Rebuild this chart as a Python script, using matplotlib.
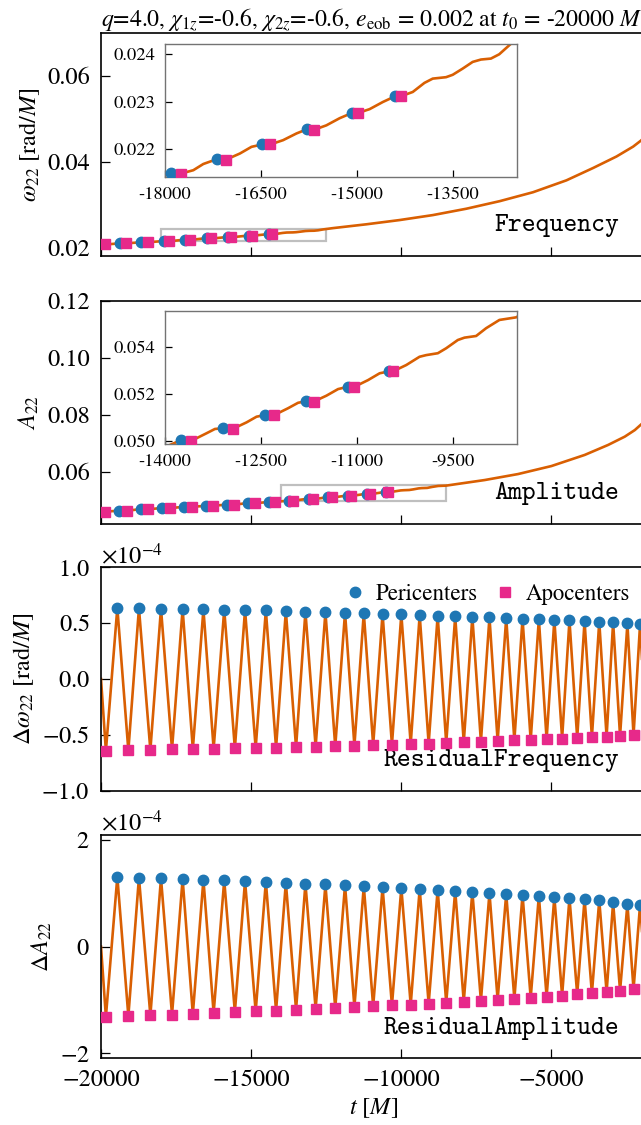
"""
Eccentricity diagnostics: omega_22, A_22 and their residuals with
pericenter / apocenter markers (values read off the reference figure).
"""

import matplotlib
matplotlib.use('Agg')
import matplotlib.pyplot as plt
import numpy as np
from matplotlib.ticker import MultipleLocator, ScalarFormatter

ORANGE = '#d95f02'
BLUE = '#1f77b4'
PINK = '#e7298a'

TITLE = (r'$q$=4.0, $\chi_{1z}$=-0.6, $\chi_{2z}$=-0.6, '
         r'$e_{\rm eob}$ = 0.002 at $t_0$ = -20000 $M$')

# ---------------------------------------------------------------------------
# omega_22 (top panel)
# ---------------------------------------------------------------------------
freq_t = [-20000, -19880, -19620, -19380, -19180, -18900, -18655, -18450, -18170,
          -17902, -17745, -17554, -17398, -17190, -17045, -16826, -16645, -16479,
          -16350, -16151, -15943, -15777, -15662, -15476, -15268, -15076, -14981,
          -14800, -14593, -14401, -14312, -14126, -13944, -13814, -13606, -13502,
          -13346, -13190, -13060, -12905, -12775, -12593, -12280, -11167, -10057,
          -8947, -7833, -6723, -5613, -4500, -3613, -2833, -2277, -2020, -1850]
freq_w = [0.02069, 0.02069, 0.02082, 0.02095, 0.02095, 0.02109, 0.02122, 0.02122, 0.02136,
          0.02150, 0.02149, 0.02156, 0.02169, 0.02179, 0.02178, 0.02191, 0.02205, 0.02210,
          0.02210, 0.02219, 0.02233, 0.02242, 0.02241, 0.02250, 0.02265, 0.02276, 0.02276,
          0.02284, 0.02299, 0.02311, 0.02311, 0.02320, 0.02339, 0.02348, 0.02351, 0.02356,
          0.02369, 0.02383, 0.02388, 0.02390, 0.02399, 0.02421, 0.02450, 0.02539, 0.02638,
          0.02754, 0.02902, 0.03078, 0.03286, 0.03563, 0.03850, 0.04118, 0.04349, 0.04488, 0.04600]
freq_peri_t = [-19380, -18655, -17902, -17190, -16479, -15777, -15076, -14401]
freq_peri_w = [0.02095, 0.02122, 0.02150, 0.02179, 0.02210, 0.02242, 0.02276, 0.02311]
freq_apo_t = [-19880, -19180, -18450, -17745, -17045, -16350, -15662, -14981, -14312]
freq_apo_w = [0.02069, 0.02095, 0.02122, 0.02149, 0.02178, 0.02210, 0.02241, 0.02276, 0.02311]

# ---------------------------------------------------------------------------
# A_22 (second panel)
# ---------------------------------------------------------------------------
amp_t = [-20000, -19877, -19640, -19413, -19120, -18900, -18680, -18423, -18190, -17960,
         -17703, -17470, -17240, -16973, -16740, -16507, -16277, -16040, -15810, -15580,
         -15350, -15113, -14883, -14650, -14417, -14220, -13990, -13751, -13590, -13346,
         -13216, -13086, -12940, -12722, -12566, -12436, -12296, -12073, -11917, -11787,
         -11673, -11475, -11293, -11137, -11043, -10825, -10643, -10498, -10435, -10227,
         -10020, -9916, -9734, -9604, -9422, -9318, -9136, -8980, -8772, -8512,
         -7223, -6110, -5000, -3890, -3110, -2557, -2223, -1967, -1850]
amp_a = [0.0461, 0.0461, 0.0463, 0.0465, 0.0465, 0.04675, 0.0470, 0.0470, 0.0472, 0.0474,
         0.0474, 0.0476, 0.0478, 0.0478, 0.0480, 0.0482, 0.0482, 0.0484, 0.0486, 0.0486,
         0.04885, 0.0491, 0.0491, 0.0493, 0.0495, 0.0495, 0.04975, 0.05003, 0.05000, 0.05033,
         0.05051, 0.05054, 0.05051, 0.05079, 0.05103, 0.05110, 0.05109, 0.05139, 0.05162, 0.05169,
         0.05167, 0.05192, 0.05220, 0.05230, 0.05229, 0.05258, 0.05287, 0.05295, 0.05295, 0.05322,
         0.05357, 0.05364, 0.05372, 0.05393, 0.05428, 0.05438, 0.05445, 0.05478, 0.05513, 0.05524,
         0.0572, 0.0593, 0.0621, 0.0660, 0.0695, 0.0724, 0.0747, 0.0771, 0.0781]
amp_peri_t = [-19413, -18680, -17960, -17240, -16507, -15810, -15113, -14417, -13751,
              -13086, -12436, -11787, -11137, -10498]
amp_peri_a = [0.0465, 0.0470, 0.0474, 0.0478, 0.0482, 0.0486, 0.0491, 0.0495, 0.05003,
              0.05054, 0.05110, 0.05169, 0.05230, 0.05295]
amp_apo_t = [-19877, -19120, -18423, -17703, -16973, -16277, -15580, -14883, -14220,
             -13590, -12940, -12296, -11673, -11043, -10435]
amp_apo_a = [0.0461, 0.0465, 0.0470, 0.0474, 0.0478, 0.0482, 0.0486, 0.0491, 0.0495,
             0.05000, 0.05051, 0.05109, 0.05167, 0.05229, 0.05295]

# ---------------------------------------------------------------------------
# residuals (units of 1e-4)
# ---------------------------------------------------------------------------
RES_SCALE = 1e-4
res_start_t, res_start_v = -20000, 0.0
res_peri_t = [-19456, -18736, -18002, -17282, -16589, -15896, -15203, -14510, -13844, -13192,
              -12526, -11873, -11248, -10623, -9998, -9387, -8788, -8204, -7633, -7063,
              -6505, -5962, -5418, -4902, -4399, -3896, -3407, -2945, -2469, -2048]
res_apo_t = [-19837, -19089, -18356, -17635, -16942, -16249, -15542, -14849, -14170, -13504,
             -12852, -12199, -11561, -10936, -10311, -9686, -9088, -8503, -7919, -7348,
             -6791, -6234, -5690, -5160, -4644, -4141, -3652, -3162, -2714, -2265, -1840]
res_freq_peri = [0.637, 0.634, 0.631, 0.628, 0.625, 0.622, 0.619, 0.616, 0.610, 0.604,
                 0.601, 0.595, 0.592, 0.586, 0.580, 0.574, 0.568, 0.562, 0.559, 0.553,
                 0.547, 0.541, 0.538, 0.532, 0.526, 0.520, 0.514, 0.508, 0.498, 0.489]
res_freq_apo = [-0.643, -0.640, -0.637, -0.631, -0.628, -0.625, -0.622, -0.619, -0.616, -0.613,
                -0.607, -0.604, -0.598, -0.592, -0.589, -0.583, -0.580, -0.574, -0.568, -0.562,
                -0.556, -0.550, -0.547, -0.541, -0.535, -0.529, -0.523, -0.517, -0.511, -0.505,
                -0.500]
res_amp_peri = [1.306, 1.294, 1.281, 1.269, 1.256, 1.244, 1.231, 1.219, 1.200, 1.181,
                1.163, 1.150, 1.131, 1.113, 1.100, 1.081, 1.069, 1.050, 1.031, 1.006,
                0.988, 0.969, 0.950, 0.931, 0.913, 0.894, 0.869, 0.831, 0.800, 0.781]
res_amp_apo = [-1.313, -1.300, -1.288, -1.275, -1.263, -1.244, -1.225, -1.213, -1.200, -1.181,
               -1.163, -1.150, -1.131, -1.119, -1.100, -1.088, -1.069, -1.050, -1.031, -1.013,
               -0.994, -0.975, -0.956, -0.938, -0.919, -0.894, -0.875, -0.850, -0.825, -0.800,
               -0.790]

# inset windows
freq_inset_xlim = (-18000, -12500)
freq_inset_ylim = (0.02142, 0.02421)
freq_inset_xticks = [-18000, -16500, -15000, -13500]
freq_inset_yticks = [0.022, 0.023, 0.024]
amp_inset_xlim = (-14000, -8500)
amp_inset_ylim = (0.04986, 0.05551)
amp_inset_xticks = [-14000, -12500, -11000, -9500]
amp_inset_yticks = [0.050, 0.052, 0.054]

plt.rcParams.update({
    'font.family': 'STIXGeneral',
    'mathtext.fontset': 'stix',
    'font.size': 17.5,
    'axes.linewidth': 1.2,
    'xtick.direction': 'in',
    'ytick.direction': 'in',
    'xtick.major.size': 6.5,
    'ytick.major.size': 6.5,
    'xtick.major.width': 0.9,
    'ytick.major.width': 0.9,
    'xtick.major.pad': 8,
    'ytick.major.pad': 8,
})

MS_O, MS_S, LW = 7.5, 6.5, 1.9


def draw_markers(ax, pt, pv, at, av, **kw):
    ax.plot(pt, pv, 'o', color=BLUE, ms=MS_O, zorder=3, **kw.get('peri', {}))
    ax.plot(at, av, 's', color=PINK, ms=MS_S, zorder=3.1, **kw.get('apo', {}))


def curve_panel(ax, t, y, pt, pv, at, av, rect, xlim, ylim, xticks, yticks, tag):
    ax.plot(t, y, color=ORANGE, lw=LW, zorder=2)
    draw_markers(ax, pt, pv, at, av)

    ins = ax.inset_axes(rect)
    ins.plot(t, y, color=ORANGE, lw=LW, zorder=2)
    draw_markers(ins, pt, pv, at, av)
    ins.set_xlim(xlim)
    ins.set_ylim(ylim)
    ins.set_xticks(xticks, labels=[f'{v}' for v in xticks])
    ins.set_yticks(yticks, labels=[f'{v:.3f}' for v in yticks])
    ins.tick_params(labelsize=13.3, length=5.3, pad=7)
    for sp in ins.spines.values():
        sp.set_color('0.45')
        sp.set_linewidth(1.0)
    ax.indicate_inset([xlim[0], ylim[0], xlim[1] - xlim[0], ylim[1] - ylim[0]],
                      edgecolor='0.5', alpha=0.5, linewidth=1.6, zorder=1)
    ax.text(0.95, 0.135, tag, transform=ax.transAxes, ha='right', va='center',
            family='cmtt10', fontsize=19)


def residual_panel(ax, peri_v, apo_v, tag, legend=False):
    pts = sorted([(res_start_t, res_start_v)] + list(zip(res_peri_t, peri_v))
                 + list(zip(res_apo_t, apo_v)))
    lt, lv = zip(*pts)
    ax.plot(lt, np.array(lv) * RES_SCALE, color=ORANGE, lw=LW, zorder=2)
    draw_markers(ax, res_peri_t, np.array(peri_v) * RES_SCALE,
                 res_apo_t, np.array(apo_v) * RES_SCALE,
                 peri={'label': 'Pericenters'}, apo={'label': 'Apocenters'})
    fmt = ScalarFormatter(useMathText=True)
    fmt.set_powerlimits((0, 0))
    ax.yaxis.set_major_formatter(fmt)
    ax.text(0.95, 0.135, tag, transform=ax.transAxes, ha='right', va='center',
            family='cmtt10', fontsize=19)
    if legend:
        ax.legend(loc='upper right', ncol=2, frameon=False, handlelength=1.0,
                  handletextpad=0.4, columnspacing=0.7, borderaxespad=0.3,
                  fontsize=16.5)


fig = plt.figure(figsize=(6.41, 11.25), dpi=100)
LEFT, WIDTH = 101 / 641, 545 / 641
bottoms = [0.7724, 0.5342, 0.2972, 0.0593]
axes = [fig.add_axes([LEFT, b, WIDTH, 0.1985]) for b in bottoms]

curve_panel(axes[0], freq_t, freq_w, freq_peri_t, freq_peri_w, freq_apo_t, freq_apo_w,
            [0.117, 0.3545, 0.646, 0.596], freq_inset_xlim, freq_inset_ylim,
            freq_inset_xticks, freq_inset_yticks, 'Frequency')
axes[0].set_ylim(0.018, 0.07)
axes[0].yaxis.set_major_locator(MultipleLocator(0.02))
axes[0].set_ylabel(r'$\omega_{22}$ [rad/$M$]')
# the title starts at the axes' left edge and has to end inside the picture
axes[0].set_title(TITLE, fontsize=17.1, pad=5, loc='left')

curve_panel(axes[1], amp_t, amp_a, amp_peri_t, amp_peri_a, amp_apo_t, amp_apo_a,
            [0.117, 0.357, 0.646, 0.597], amp_inset_xlim, amp_inset_ylim,
            amp_inset_xticks, amp_inset_yticks, 'Amplitude')
axes[1].set_ylim(0.0418, 0.12)
axes[1].yaxis.set_major_locator(MultipleLocator(0.02))
axes[1].set_ylabel(r'$A_{22}$')

residual_panel(axes[2], res_freq_peri, res_freq_apo, 'ResidualFrequency', legend=True)
axes[2].set_ylim(-1e-4, 1e-4)
axes[2].yaxis.set_major_locator(MultipleLocator(0.5e-4))
axes[2].set_ylabel(r'$\Delta\omega_{22}$ [rad/$M$]')

residual_panel(axes[3], res_amp_peri, res_amp_apo, 'ResidualAmplitude')
axes[3].set_ylim(-2.09e-4, 2.09e-4)
axes[3].yaxis.set_major_locator(MultipleLocator(2e-4))
axes[3].set_ylabel(r'$\Delta A_{22}$')
axes[3].set_xlabel(r'$t$ [$M$]')

for i, ax in enumerate(axes):
    ax.set_xlim(-20000, -1850)
    ax.xaxis.set_major_locator(MultipleLocator(5000))
    if i < 3:
        ax.tick_params(labelbottom=False)

fig.savefig('out.png', dpi=100)
